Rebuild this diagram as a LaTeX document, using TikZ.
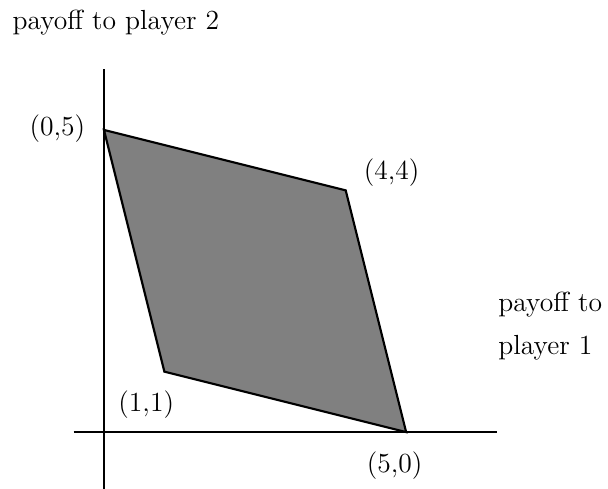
\documentclass[tikz,border=0pt]{standalone}
\usepackage{tikz}
\usetikzlibrary{positioning}
\definecolor{grey500}{HTML}{808080}
\tikzset{
  axis/.style  ={draw=black, line width=1pt},
  region/.style={draw=black, line width=1pt, fill=grey500,
                 line join=miter},
  lbl/.style   ={font=\fontsize{13}{20}\selectfont, inner sep=0pt}
}
\begin{document}
\begin{tikzpicture}
\useasboundingbox (-1.72,-0.94) rectangle (8.34,7.15);
% axes
\coordinate (xl) at (-0.5,0);
\coordinate (xr) at (6.5,0);
\coordinate (yb) at (0,-0.95);
\coordinate (yt) at (0,6);
\draw[axis] (xl) -- (xr);
\draw[axis] (yb) -- (yt);
% payoff points
\coordinate (p05) at (0,5);
\coordinate (p44) at (4,4);
\coordinate (p50) at (5,0);
\coordinate (p11) at (1,1);
\draw[region] (p05) -- (p44) -- (p50) -- (p11) -- cycle;
\node[lbl] (l05) at (-0.77,5.03) {(0,5)};
\node[lbl] (l44) at (4.76,4.29) {(4,4)};
\node[lbl] (l50) at (4.81,-0.55) {(5,0)};
\node[lbl] (l11) at (0.70,0.45) {(1,1)};
% axis titles
\node[lbl, anchor=west] (ty) at (-1.52,6.77) {payoff to player 2};
\node[lbl, anchor=west, align=left] (tx) at (6.52,1.755)
  {payoff to\\player 1};
\end{tikzpicture}
\end{document}
